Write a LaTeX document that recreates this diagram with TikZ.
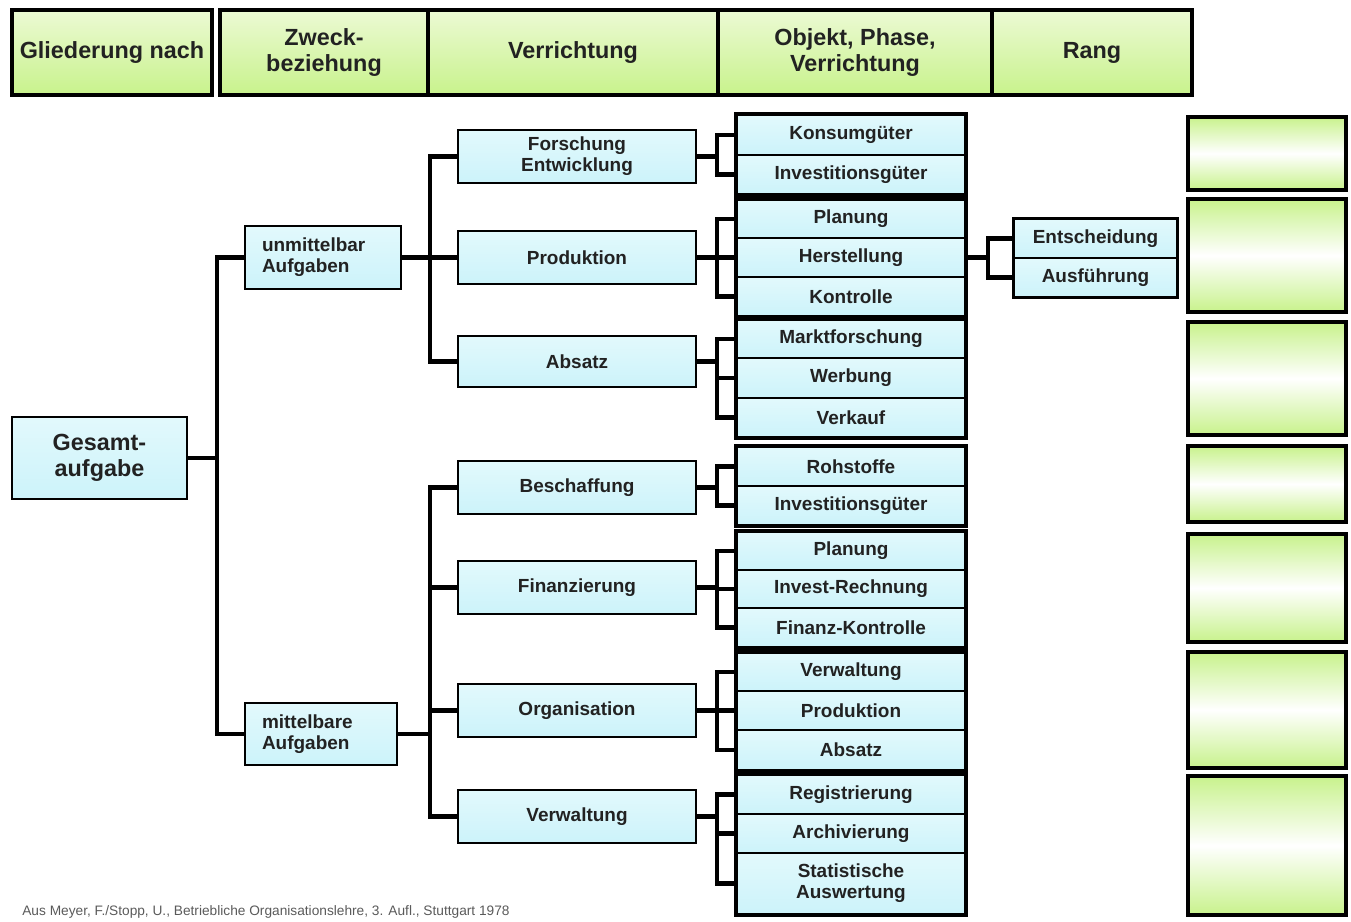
\documentclass[tikz,border=0pt]{standalone}
\usepackage{fontspec}
\setmainfont{Liberation Sans}
\definecolor{cyanfill}{RGB}{204,243,250}
\definecolor{cyantop}{RGB}{226,249,252}
\definecolor{greenA}{RGB}{200,242,140}
\definecolor{greenB}{RGB}{236,250,212}
\definecolor{textc}{RGB}{34,34,34}
\definecolor{srcgray}{RGB}{90,90,90}
% box placed by its corners (pixel grid): style, name, x1, y1, x2, y2, text
\newcommand\pbox[7]{%
  \node[#1, minimum width={(#5-#3)*0.02cm}, minimum height={(#6-#4)*0.02cm}]
    (#2) at ({(#3+#5)/2},{(#4+#6)/2}) {#7};}
\begin{document}
\begin{tikzpicture}[x=0.02cm,y=-0.02cm,
  cyanbox/.style={draw=black, line width=1.5pt, top color=cyantop, bottom color=cyanfill,
    font=\bfseries\fontsize{10.8}{12}\selectfont, text=textc, align=center, inner sep=0pt},
  leftbox/.style={cyanbox, align=left, inner xsep=0.34cm, text width=#1},
  cell/.style={cyanbox, line width=1.1pt},
  bigbox/.style={cyanbox, font=\bfseries\fontsize{13.3}{14.7}\selectfont},
  grp/.style={draw=black, line width=2.3pt},
  hdr/.style={draw=black, line width=2.4pt, top color=greenB, bottom color=greenA,
    font=\bfseries\fontsize{13.3}{14.7}\selectfont, text=textc, align=center, inner sep=0pt},
  rang/.style={draw=black, line width=2.8pt, top color=greenA, bottom color=greenA, middle color=white},
  conn/.style={draw=black, line width=2.3pt, line join=miter},
]
\useasboundingbox (0,0) rectangle (1351,922);

% column headings
\pbox{hdr}{hA}{12}{10}{212}{95}{Gliederung nach}
\pbox{hdr}{hB}{220}{10}{428}{95}{Zweck-\\beziehung}
\pbox{hdr}{hC}{428}{10}{718}{95}{Verrichtung}
\pbox{hdr}{hD}{718}{10}{992}{95}{Objekt, Phase,\\Verrichtung}
\pbox{hdr}{hE}{992}{10}{1192}{95}{Rang}

% root and purpose levels
\pbox{bigbox}{ga}{12}{417}{187}{499}{Gesamt-\\aufgabe}
\pbox{leftbox={(156-34)*0.02cm}}{um}{245}{226}{401}{289}{unmittelbar\\Aufgaben}
\pbox{leftbox={(152-34)*0.02cm}}{mb}{245}{703}{397}{765}{mittelbare\\Aufgaben}

% functions
\pbox{cyanbox}{v1}{458}{130}{696}{183}{Forschung\\Entwicklung}
\pbox{cyanbox}{v2}{458}{231}{696}{284}{Produktion}
\pbox{cyanbox}{v3}{458}{336}{696}{387}{Absatz}
\pbox{cyanbox}{v4}{458}{461}{696}{514}{Beschaffung}
\pbox{cyanbox}{v5}{458}{561}{696}{614}{Finanzierung}
\pbox{cyanbox}{v6}{458}{684}{696}{737}{Organisation}
\pbox{cyanbox}{v7}{458}{790}{696}{843}{Verwaltung}

% objects, phases, functions
\pbox{cell}{o11}{737}{115}{965}{155}{Konsumgüter}
\pbox{cell}{o12}{737}{155}{965}{194}{Investitionsgüter}
\pbox{cell}{o21}{737}{200}{965}{238}{Planung}
\pbox{cell}{o22}{737}{238}{965}{277}{Herstellung}
\pbox{cell}{o23}{737}{277}{965}{316}{Kontrolle}
\pbox{cell}{o31}{737}{320}{965}{358}{Marktforschung}
\pbox{cell}{o32}{737}{358}{965}{398}{Werbung}
\pbox{cell}{o33}{737}{398}{965}{437}{Verkauf}
\pbox{cell}{o41}{737}{447}{965}{486}{Rohstoffe}
\pbox{cell}{o42}{737}{486}{965}{525}{Investitionsgüter}
\pbox{cell}{o51}{737}{532}{965}{570}{Planung}
\pbox{cell}{o52}{737}{570}{965}{608}{Invest-Rechnung}
\pbox{cell}{o53}{737}{608}{965}{647}{Finanz-Kontrolle}
\pbox{cell}{o61}{737}{653}{965}{691}{Verwaltung}
\pbox{cell}{o62}{737}{691}{965}{730}{Produktion}
\pbox{cell}{o63}{737}{730}{965}{770}{Absatz}
\pbox{cell}{o71}{737}{775}{965}{814}{Registrierung}
\pbox{cell}{o72}{737}{814}{965}{853}{Archivierung}
\pbox{cell}{o73}{737}{853}{965}{914}{Statistische\\Auswertung}
\foreach \a/\b in {o11/o12,o21/o23,o31/o33,o41/o42,o51/o53,o61/o63,o71/o73}
  \draw[grp] (\a.north west) rectangle (\b.south east);

% rank
\pbox{cell}{r1}{1014}{219}{1177}{258}{Entscheidung}
\pbox{cell}{r2}{1014}{258}{1177}{297}{Ausführung}
\draw[grp, line width=1.6pt] (r1.north west) rectangle (r2.south east);

% empty rank fields
\pbox{rang}{g1}{1188}{117}{1346}{190}{}
\pbox{rang}{g2}{1188}{199}{1346}{312}{}
\pbox{rang}{g3}{1188}{322}{1346}{435}{}
\pbox{rang}{g4}{1188}{446}{1346}{522}{}
\pbox{rang}{g5}{1188}{534}{1346}{642}{}
\pbox{rang}{g6}{1188}{652}{1346}{768}{}
\pbox{rang}{g7}{1188}{776}{1346}{915}{}

% tree connectors
\coordinate (t0) at (217,0);
\coordinate (t1) at (430,0);
\coordinate (t2) at (717,0);
\coordinate (t3) at (988,0);
\draw[conn, line width=2.8pt] (ga.east) -- (ga.east -| t0);
\draw[conn] (um.west) -| (mb.west -| t0) -- (mb.west);
\draw[conn] (um.east) -- (um.east -| t1);
\draw[conn] (v1.west) -| (v3.west -| t1) -- (v3.west);
\draw[conn] (v2.west) -- (v2.west -| t1);
\draw[conn] (mb.east) -- (mb.east -| t1);
\draw[conn] (v4.west) -| (v7.west -| t1) -- (v7.west);
\draw[conn] (v5.west) -- (v5.west -| t1);
\draw[conn] (v6.west) -- (v6.west -| t1);

\foreach \p/\a/\b in {v1/o11/o12,v2/o21/o23,v3/o31/o33,v4/o41/o42,v5/o51/o53,v6/o61/o63,v7/o71/o73}{
  \draw[conn] (\p.east) -- (\p.east -| t2);
  \draw[conn] (\a.west) -| (\b.west -| t2) -- (\b.west);
}
\foreach \m in {o22,o32,o52,o62,o72}
  \draw[conn] (\m.west) -- (\m.west -| t2);

\draw[conn] (o22.east) -- (o22.east -| t3);
\draw[conn] (r1.west) -| (r2.west -| t3) -- (r2.west);

% source
\node[anchor=west, inner sep=0pt, text=srcgray, font=\fontsize{7.8}{9}\selectfont] (src) at (22,912)
  {Aus Meyer, F./Stopp, U., Betriebliche Organisationslehre, 3. Aufl., Stuttgart 1978};
\end{tikzpicture}
\end{document}
